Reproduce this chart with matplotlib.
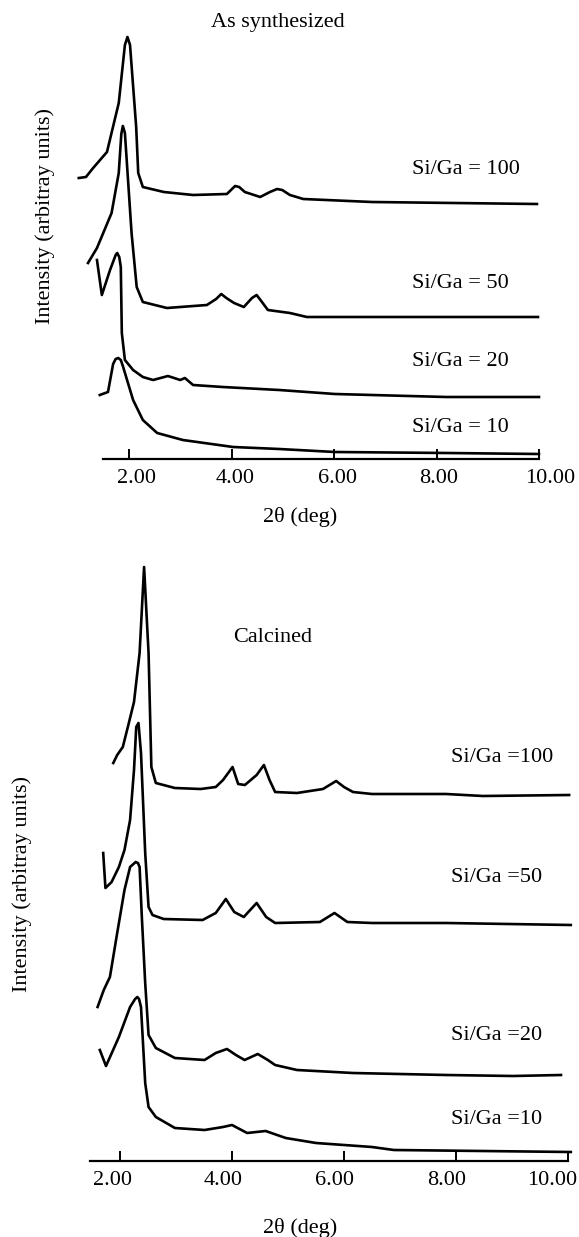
import matplotlib
matplotlib.use('Agg')
from matplotlib import pyplot as plt
from matplotlib import transforms

plt.rcParams['font.family'] = ['Liberation Serif', 'DejaVu Serif']

# ---- As synthesized (2theta in deg, intensity in arbitrary units) ----
syn100_x = [1.02, 1.16, 1.30, 1.57, 1.80, 1.92, 1.97, 2.02, 2.14, 2.18, 2.27, 2.68, 3.25, 3.91, 3.99, 4.07, 4.15, 4.26, 4.56, 4.75, 4.89, 4.99, 5.14, 5.40, 6.74, 9.96]
syn100_y = [281, 282, 291, 307, 356, 414, 422, 414, 332, 286, 272, 267, 264, 265, 269, 273, 272, 267, 262, 267, 270, 269, 264, 260, 257, 255]

syn50_x = [1.20, 1.375, 1.66, 1.80, 1.85, 1.88, 1.92, 2.05, 2.15, 2.27, 2.74, 3.52, 3.70, 3.80, 3.90, 4.05, 4.24, 4.40, 4.49, 4.58, 4.71, 5.14, 5.47, 9.98]
syn50_y = [196, 211, 246, 286, 325, 333, 326, 226, 172, 157, 151, 154, 160, 165, 161, 156, 152, 161, 164, 158, 149, 146, 142, 142]

syn20_x = [1.375, 1.47, 1.63, 1.74, 1.77, 1.81, 1.84, 1.86, 1.92, 2.08, 2.27, 2.47, 2.76, 3.00, 3.09, 3.25, 3.83, 4.93, 6.02, 8.19, 10.0]
syn20_y = [199, 164, 189, 204, 206, 202, 192, 126, 99, 89, 82, 79, 83, 79, 81, 74, 72, 69, 65, 62, 62]

syn10_x = [1.43, 1.59, 1.69, 1.74, 1.79, 1.84, 1.88, 2.08, 2.27, 2.55, 3.05, 4.03, 4.93, 6.02, 8.19, 10.0]
syn10_y = [64, 67, 95, 100, 101, 99, 93, 59, 39, 26, 19, 12, 10, 7, 6, 5]

# ---- Calcined ----
cal100_x = [1.88, 1.95, 2.05, 2.14, 2.25, 2.35, 2.43, 2.51, 2.56, 2.64, 2.98, 3.44, 3.71, 3.84, 4.01, 4.11, 4.23, 4.44, 4.57, 4.67, 4.77, 5.16, 5.625, 5.86, 6.00, 6.16, 6.5, 7.82, 8.48, 10.02]
cal100_y = [398, 406, 414, 434, 459, 508, 594, 508, 394, 378, 373, 372, 374, 381, 394, 377, 376, 386, 396, 381, 369, 368, 372, 380, 374, 369, 367, 367, 365, 366]

cal50_x = [1.70, 1.74, 1.85, 1.98, 2.08, 2.18, 2.25, 2.29, 2.33, 2.375, 2.45, 2.51, 2.58, 2.78, 3.475, 3.71, 3.89, 4.04, 4.21, 4.44, 4.61, 4.77, 5.57, 5.83, 6.06, 6.5, 7.82, 10.05]
cal50_y = [308, 273, 279, 294, 311, 341, 391, 434, 438, 408, 308, 254, 246, 242, 241, 248, 262, 249, 244, 258, 244, 238, 239, 248, 239, 238, 238, 236]

cal20_x = [1.60, 1.71, 1.82, 1.95, 2.08, 2.18, 2.24, 2.28, 2.32, 2.35, 2.39, 2.45, 2.51, 2.64, 2.98, 3.51, 3.71, 3.91, 4.07, 4.225, 4.46, 4.64, 4.77, 5.16, 6.16, 7.82, 9.02, 9.875]
cal20_y = [154, 171, 184, 228, 271, 294, 297, 299, 298, 294, 244, 178, 126, 113, 103, 101, 108, 112, 106, 101, 107, 101, 96, 91, 88, 86, 85, 86]

cal10_x = [1.64, 1.75, 1.98, 2.18, 2.27, 2.31, 2.34, 2.375, 2.45, 2.51, 2.64, 2.98, 3.51, 3.84, 4.0, 4.27, 4.60, 4.96, 5.5, 6.5, 6.89, 10.05]
cal10_y = [111, 95, 124, 154, 162, 164, 162, 154, 78, 54, 44, 33, 31, 34, 36, 28, 30, 23, 18, 14, 11, 9]

ticks = [2, 4, 6, 8, 10]
tick_labels = ['2.00', '4.00', '6.00', '8.00', '10.00']
syn_labels = ['Si/Ga = 100', 'Si/Ga = 50', 'Si/Ga = 20', 'Si/Ga = 10']
cal_labels = ['Si/Ga =100', 'Si/Ga =50', 'Si/Ga =20', 'Si/Ga =10']

W, H = 579, 1237
fig = plt.figure(figsize=(W / 100, H / 100), dpi=100)

ax1 = fig.add_axes([67.5 / W, 1 - 459 / H, 502.25 / W, 439 / H])
ax2 = fig.add_axes([64 / W, 1 - 1161 / H, 509.6 / W, 601 / H])

def style_axis(ax, x0, shifts):
    for s in ['top', 'right', 'left']:
        ax.spines[s].set_visible(False)
    ax.spines['bottom'].set_bounds(x0, 10.0)
    ax.spines['bottom'].set_linewidth(1.6)
    ax.set_yticks([])
    ax.set_xticks(ticks)
    ax.set_xticklabels(tick_labels)
    ax.tick_params(axis='x', direction='in', length=7, width=1.4, pad=7, labelsize=16)
    ax.patch.set_visible(False)
    # the printed labels sit a little off their ticks
    for lab, dx in zip(ax.get_xticklabels(), shifts):
        lab.set_transform(lab.get_transform() + transforms.ScaledTranslation(dx / 100, 0, fig.dpi_scale_trans))

lw = 1.9
ax1.plot(syn100_x, syn100_y, color='black', lw=lw)
ax1.plot(syn50_x, syn50_y, color='black', lw=lw)
ax1.plot(syn20_x, syn20_y, color='black', lw=lw)
ax1.plot(syn10_x, syn10_y, color='black', lw=lw)
ax1.set_xlim(0.8, 10.6)
ax1.set_ylim(0, 439)
style_axis(ax1, 1.49, [7, 4, 3, 2, 11])

for lab, y in zip(syn_labels, [289, 176, 97, 31]):
    ax1.text(7.52, y, lab, fontsize=16, va='center', ha='left')
ax1.text(4.91, 436, 'As synthesized', fontsize=16, ha='center', va='center', clip_on=False)

ax2.plot(cal100_x, cal100_y, color='black', lw=lw)
ax2.plot(cal50_x, cal50_y, color='black', lw=lw)
ax2.plot(cal20_x, cal20_y, color='black', lw=lw)
ax2.plot(cal10_x, cal10_y, color='black', lw=lw)
ax2.set_xlim(1.0, 10.1)
ax2.set_ylim(0, 601)
style_axis(ax2, 1.46, [-8, -9, -9, -9, -16])

for lab, y in zip(cal_labels, [404, 283, 126, 41]):
    ax2.text(7.91, y, lab, fontsize=16, va='center', ha='left')
ax2.text(4.73, 523, 'Calcined', fontsize=16, ha='center', va='center')

# axis titles
fig.text(300 / W, 1 - 517 / H, '2θ (deg)', fontsize=16, ha='center', va='center')
fig.text(300 / W, 1 - 1228 / H, '2θ (deg)', fontsize=16, ha='center', va='center')
fig.text(45 / W, 1 - 216 / H, 'Intensity (arbitray units)', fontsize=16, rotation=90, ha='center', va='center')
fig.text(22 / W, 1 - 884 / H, 'Intensity (arbitray units)', fontsize=16, rotation=90, ha='center', va='center')

fig.savefig('out.png', dpi=100)
